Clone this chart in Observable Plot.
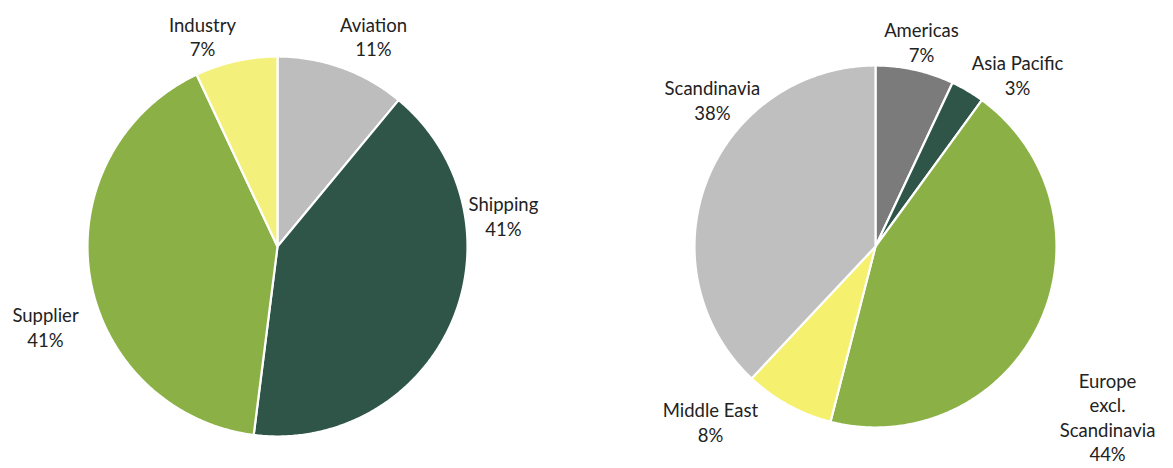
<!DOCTYPE html>
<html>
<head>
<meta charset="utf-8">
<script src="https://cdn.jsdelivr.net/npm/d3@7"></script>
<script src="https://cdn.jsdelivr.net/npm/@observablehq/plot@0.6"></script>
<style>
  html, body { margin: 0; padding: 0; background: #ffffff; }
  #row { display: flex; width: 1173px; height: 468px; overflow: hidden; }
  #row svg { display: block; overflow: visible; }
</style>
</head>
<body>
<div id="row"></div>
<script>
// ---- data ----
const sectorNames  = ["Aviation", "Shipping", "Supplier", "Industry"];
const sectorShares = [11, 41, 41, 7];
const sectorLabels = ["Aviation\n11%", "Shipping\n41%", "Supplier\n41%", "Industry\n7%"];

const regionNames  = ["Americas", "Asia Pacific", "Europe excl. Scandinavia", "Middle East", "Scandinavia"];
const regionShares = [7, 3, 44, 8, 38];
const regionLabels = ["Americas\n7%", "Asia Pacific\n3%", "Europe\nexcl.\nScandinavia\n44%", "Middle East\n8%", "Scandinavia\n38%"];

// ---- styling / layout ----
const sectorColors = ["#bdbdbd", "#2f5549", "#8bb045", "#f4f07c"];
const regionColors = ["#7b7b7b", "#2f5549", "#8bb045", "#f5f06e", "#bfbfbf"];

// label anchor offsets, in units of pie radius (x right, y up)
const sectorLabelPos = [[0.505, 1.108], [1.189, 0.163], [-1.221, -0.421], [-0.395, 1.108]];
const regionLabelPos = [[0.254, 1.133], [0.785, 0.950], [1.282, -0.94], [-0.912, -0.967], [-0.901, 0.812]];

function pieChart({names, shares, labels, colors, labelPos, width, cx, cy, r}) {
  const arcs = d3.pie().sort(null).value(d => d)(shares);
  const pts = [];
  arcs.forEach((a, i) => {
    const n = Math.max(2, Math.ceil((a.endAngle - a.startAngle) / (Math.PI / 360)));
    pts.push({name: names[i], x: 0, y: 0});
    for (let k = 0; k <= n; k++) {
      const t = a.startAngle + (a.endAngle - a.startAngle) * k / n;
      pts.push({name: names[i], x: Math.sin(t), y: Math.cos(t)});
    }
    pts.push({name: names[i], x: 0, y: 0});
  });
  const lab = names.map((nm, i) => ({name: nm, text: labels[i], x: labelPos[i][0], y: labelPos[i][1]}));
  return Plot.plot({
    width, height: 468,
    margin: 0,
    style: {background: "transparent", fontFamily: "Lato, 'Open Sans', sans-serif"},
    x: {domain: [-1, 1], range: [cx - r, cx + r], axis: null},
    y: {domain: [-1, 1], range: [cy + r, cy - r], axis: null},
    color: {type: "ordinal", domain: names, range: colors},
    marks: [
      Plot.line(pts, {x: "x", y: "y", z: "name", fill: "name", stroke: "#ffffff", strokeWidth: 2.2, curve: "linear", strokeLinejoin: "round"}),
      Plot.text(lab, {x: "x", y: "y", text: "text", fontSize: 18.5, lineHeight: 1.33, fill: "#222222", textAnchor: "middle", lineAnchor: "middle"})
    ]
  });
}

const row = document.getElementById("row");
row.append(pieChart({names: sectorNames, shares: sectorShares, labels: sectorLabels, colors: sectorColors,
  labelPos: sectorLabelPos, width: 586, cx: 277, cy: 246, r: 190}));
row.append(pieChart({names: regionNames, shares: regionShares, labels: regionLabels, colors: regionColors,
  labelPos: regionLabelPos, width: 587, cx: 289, cy: 246, r: 181}));
</script>
</body>
</html>
